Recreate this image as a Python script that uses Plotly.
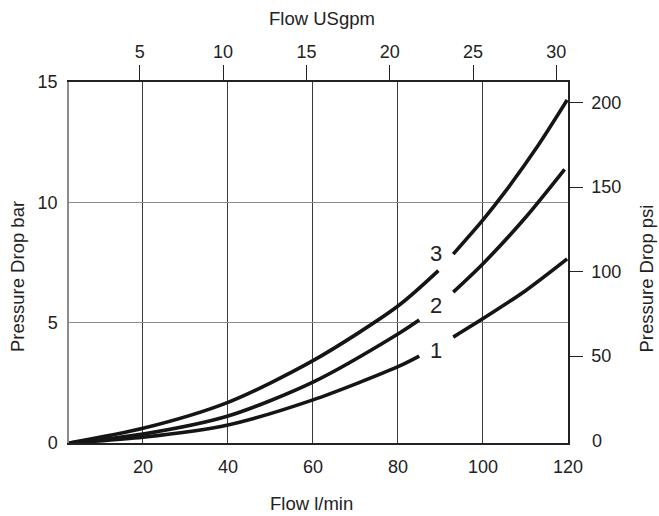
import plotly.graph_objects as go

# ---- data ----
flow_ticks_lpm = [20, 40, 60, 80, 100, 120]
flow_ticks_gpm = [5, 10, 15, 20, 25, 30]
bar_ticks = [0, 5, 10, 15]
psi_ticks = [50, 100, 150, 200]

# curve 3 (split around its label)
c3_low_x = [2.6, 20, 40, 60, 80, 89.5]
c3_low_y = [0, 0.61, 1.69, 3.42, 5.69, 7.16]
c3_up_x = [93, 100, 105, 113, 119.8]
c3_up_y = [7.85, 9.27, 10.39, 12.37, 14.25]

# curve 2
c2_low_x = [2.6, 20, 40, 60, 80, 85]
c2_low_y = [0, 0.37, 1.12, 2.53, 4.53, 5.11]
c2_up_x = [93, 100, 110, 119.2]
c2_up_y = [6.27, 7.45, 9.37, 11.37]

# curve 1
c1_low_x = [2.6, 20, 40, 60, 80, 85]
c1_low_y = [0, 0.24, 0.75, 1.79, 3.17, 3.61]
c1_up_x = [93, 100, 110, 119.8]
c1_up_y = [4.40, 5.17, 6.33, 7.65]

curve_labels = ["1", "2", "3"]
label_x = [88.9, 88.9, 88.9]
label_y = [3.86, 5.73, 7.89]

FONT = "Liberation Sans, Arial, sans-serif"
LINE = "#151515"

fig = go.Figure()
for xs, ys in [(c3_low_x, c3_low_y), (c3_up_x, c3_up_y),
               (c2_low_x, c2_low_y), (c2_up_x, c2_up_y),
               (c1_low_x, c1_low_y), (c1_up_x, c1_up_y)]:
    fig.add_trace(go.Scatter(x=xs, y=ys, mode="lines",
                             line=dict(color=LINE, width=3.6, shape="spline", smoothing=0.8),
                             showlegend=False, hoverinfo="skip"))

# dummy traces to activate secondary axes
fig.add_trace(go.Scatter(x=[None], y=[None], xaxis="x2", yaxis="y", showlegend=False))
fig.add_trace(go.Scatter(x=[None], y=[None], xaxis="x", yaxis="y2", showlegend=False))
fig.add_trace(go.Scatter(x=[None], y=[None], xaxis="x", yaxis="y3", showlegend=False))

for t, xv, yv in zip(curve_labels, label_x, label_y):
    fig.add_annotation(x=xv, y=yv, text=t, showarrow=False,
                       font=dict(family=FONT, size=22, color="#222"),
                       xanchor="center", yanchor="middle")

title_font = dict(family=FONT, size=18.5, color="#222")
fig.add_annotation(xref="paper", yref="paper", x=0.5065, y=1.177, text="Flow USgpm",
                   showarrow=False, font=title_font, xanchor="center", yanchor="middle")
fig.add_annotation(xref="paper", yref="paper", x=0.4865, y=-0.168, text="Flow l/min",
                   showarrow=False, font=title_font, xanchor="center", yanchor="middle")
fig.add_annotation(xref="paper", yref="paper", x=-0.102, y=0.46, text="Pressure Drop bar",
                   textangle=-90, showarrow=False, font=title_font, xanchor="center", yanchor="middle")
fig.add_annotation(xref="paper", yref="paper", x=1.158, y=0.455, text="Pressure Drop psi",
                   textangle=-90, showarrow=False, font=title_font, xanchor="center", yanchor="middle")

tick_font = dict(family=FONT, size=18, color="#222")

fig.update_layout(
    width=659, height=516,
    margin=dict(l=69, r=90.5, t=82, b=73),
    paper_bgcolor="white", plot_bgcolor="white",
    xaxis=dict(range=[2.6, 120], tickvals=flow_ticks_lpm, showgrid=True,
               gridcolor="#3a3a3a", gridwidth=1, zeroline=False,
               showline=True, linecolor="#222", linewidth=1.5, ticks="",
               ticklabelstandoff=7, tickfont=tick_font),
    xaxis2=dict(range=[0.75, 30.7], tickvals=flow_ticks_gpm, overlaying="x", side="top",
                anchor="y", showgrid=False, zeroline=False, showline=True,
                linecolor="#222", linewidth=1.5, ticks="outside", ticklen=15,
                tickcolor="#222", tickwidth=1.2, tickfont=tick_font),
    yaxis=dict(range=[0, 15], tickvals=bar_ticks, showgrid=True, gridcolor="#8a8a8a",
               gridwidth=1, zeroline=False, showline=True, linecolor="#8a8a8a",
               linewidth=1.5, ticks="", ticklabelstandoff=6, tickfont=tick_font),
    yaxis2=dict(range=[-1.5, 212.2], tickvals=psi_ticks, overlaying="y", side="right",
                anchor="x", showgrid=False, zeroline=False, showline=True,
                linecolor="#222", linewidth=1.5, ticks="outside", ticklen=13,
                tickcolor="#222", tickwidth=1.2, ticklabelstandoff=5, tickfont=tick_font),
    yaxis3=dict(range=[-1.5, 212.2], tickvals=[0], overlaying="y", side="right",
                anchor="x", showgrid=False, zeroline=False, showline=False,
                ticks="", ticklabelstandoff=23, tickfont=tick_font),
)

# remove the default page margin so the 659x516 figure fills the window exactly
fig.write_html("out.html",
               config={"displayModeBar": False},
               post_script="document.body.style.margin='0';document.body.style.overflow='hidden';")
